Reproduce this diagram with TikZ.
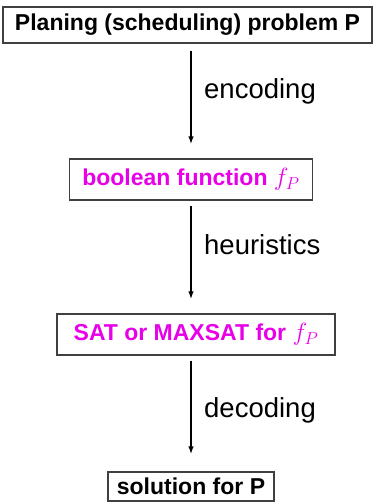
\documentclass[tikz,border=0pt]{standalone}
\usepackage{fontspec}
\setmainfont{Liberation Sans}
\usetikzlibrary{arrows.meta, positioning, calc}
\definecolor{fmag}{RGB}{232,0,232}

\begin{document}
\begin{tikzpicture}[
  x=1pt, y=-1pt,
  box/.style = {draw=black!75, line width=1.2pt, inner sep=0pt, fill=white,
                font=\fontsize{23}{28}\selectfont\bfseries},
  hilite/.style = {box, text=fmag},
  arrow/.style = {line width=1.8pt, -{Latex[length=8pt, width=5.5pt]}},
  lbl/.style = {inner sep=0pt, anchor=base west, font=\fontsize{27.5}{32}\selectfont}
]

% Frame
\useasboundingbox (0,0) rectangle (373,502);

% Boxes
\node[box, minimum width=369pt, minimum height=36pt] (prob) at (187.5,25) {Planing (scheduling) problem P};
\node[hilite, minimum width=243pt, minimum height=41pt] (bool) at (191,179.5) {boolean function $f_P$};
\node[hilite, minimum width=278pt, minimum height=41pt] (sat) at (196,334.5) {SAT or MAXSAT for $f_P$};
\node[box, minimum width=166pt, minimum height=29pt] (sol) at (191,486.5) {solution for P};

% Arrows
\draw[arrow, shorten <=7pt, shorten >=14pt] (prob.south -| bool.north) -- (bool.north);
\draw[arrow, shorten <=5pt, shorten >=14pt] (bool.south) -- (sat.north -| bool.south);
\draw[arrow, shorten <=5pt, shorten >=17pt] (sat.south -| sol.north) -- (sol.north);

% Labels
\node[lbl] (enc) at (204,99) {encoding};
\node[lbl] (heur) at (204,254) {heuristics};
\node[lbl] (dec) at (204,417) {decoding};

\end{tikzpicture}
\end{document}
